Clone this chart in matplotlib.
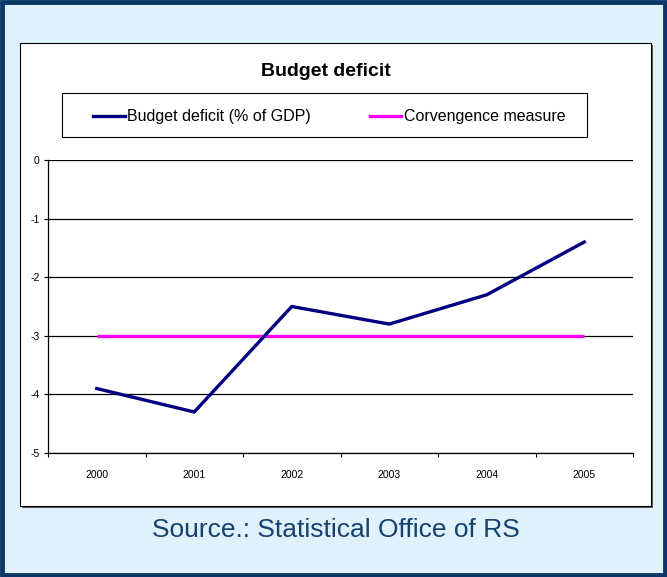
import matplotlib.pyplot as plt
from matplotlib.patches import Rectangle
from matplotlib.lines import Line2D

# data
years = ['2000', '2001', '2002', '2003', '2004', '2005']
deficit = [-3.9, -4.3, -2.5, -2.8, -2.3, -1.4]
convergence = [-3, -3, -3, -3, -3, -3]
y_ticks = [0, -1, -2, -3, -4, -5]
series_names = ['Budget deficit (% of GDP)', 'Corvengence measure']

W, H = 667, 577
plt.rcParams['font.family'] = ['Liberation Sans', 'DejaVu Sans']

DARK = '#000080'
PINK = '#ff00ff'


def fx(px):
    return px / W


def fy(py):
    return 1 - py / H


fig = plt.figure(figsize=(W / 100, H / 100), dpi=100)
fig.patch.set_facecolor('#dff2fc')

# outer border
fig.patches.append(Rectangle((0.003, 0.003), 0.994, 0.994, transform=fig.transFigure,
                             fill=False, edgecolor='#0c3868', linewidth=3.5, zorder=0))
# white chart box with a small shadow
fig.patches.append(Rectangle((fx(22), fy(508)), fx(631), 463 / H, transform=fig.transFigure,
                             facecolor='#555555', edgecolor='none', zorder=0))
fig.patches.append(Rectangle((fx(20), fy(506)), fx(631), 463 / H, transform=fig.transFigure,
                             facecolor='white', edgecolor='black', linewidth=0.8, zorder=0))

ax = fig.add_axes([fx(48), fy(453), fx(585), 293 / H])
ax.set_zorder(2)
ax.set_facecolor('white')
x = list(range(len(years)))
ax.plot(x, convergence, color=PINK, linewidth=2.4, solid_capstyle='butt')
ax.plot(x, deficit, color=DARK, linewidth=2.4, solid_joinstyle='miter')

ax.set_xlim(-0.5, len(years) - 0.5)
ax.set_ylim(-5, 0)
ax.set_yticks(y_ticks)
ax.set_yticklabels([str(v) for v in y_ticks], fontsize=7.5)
ax.set_xticks(x)
ax.set_xticklabels(years, fontsize=7.5)
ax.tick_params(axis='x', which='major', length=0, pad=12)
ax.set_xticks([i - 0.5 for i in range(len(years) + 1)], minor=True)
ax.tick_params(axis='x', which='minor', length=3, direction='out', width=0.8)
ax.tick_params(axis='y', length=3, direction='out', width=0.8, pad=3)
ax.grid(axis='y', color='black', linewidth=0.9)
ax.set_axisbelow(True)
for s in ['top', 'right']:
    ax.spines[s].set_visible(False)
for s in ['left', 'bottom']:
    ax.spines[s].set_linewidth(0.9)

fig.text(fx(326), fy(71), 'Budget deficit', ha='center', va='center',
         fontsize=14, fontweight='bold')

# legend box drawn by hand to match the original placement
fig.patches.append(Rectangle((fx(62), fy(137)), fx(525), 44 / H, transform=fig.transFigure,
                             facecolor='white', edgecolor='black', linewidth=0.8, zorder=3))
for (x0, x1, tx), color, name in zip([(93, 125, 127), (370, 401, 404)], [DARK, PINK], series_names):
    fig.add_artist(Line2D([fx(x0), fx(x1)], [fy(116), fy(116)], transform=fig.transFigure,
                          color=color, linewidth=2.4, zorder=4))
    fig.text(fx(tx), fy(116), name, ha='left', va='center', fontsize=11.5, zorder=4)

fig.text(fx(336), fy(530), 'Source.: Statistical Office of RS', ha='center', va='center',
         fontsize=19, color='#16406d')

fig.savefig('out.png', dpi=100, facecolor=fig.get_facecolor())
